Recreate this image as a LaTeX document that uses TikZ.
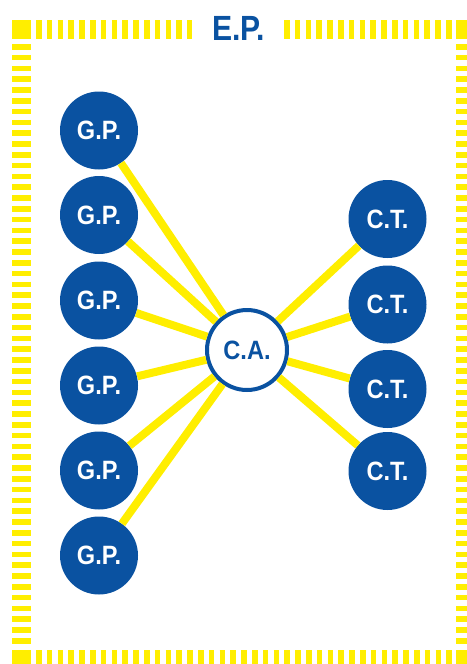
\documentclass[tikz,border=0pt]{standalone}
\usepackage{fontspec}
\setmainfont{Liberation Sans}
\begin{document}
\begin{tikzpicture}[x=1pt,y=-1pt,
  band/.style={draw=epyellow,line width=19pt,line cap=butt,dash pattern=on 5.6pt off 5.2pt},
  link/.style={draw=epyellow,line width=8pt},
  filled/.style={circle,fill=epblue,minimum size=78pt,inner sep=0pt,text=white,font=\bfseries\fontsize{26.5}{26.5}\selectfont},
  hub/.style={circle,draw=epblue,line width=4pt,fill=white,minimum size=80pt,inner sep=0pt,text=epblue,font=\bfseries\fontsize{26.5}{26.5}\selectfont}]
\definecolor{epblue}{HTML}{0A52A1}
\definecolor{epyellow}{HTML}{FFEE00}
\useasboundingbox (0,0) rectangle (466,664);
% frame
\fill[epyellow] (12,20) rectangle (31,39);
\fill[epyellow] (456,20) rectangle (475,39);
\fill[epyellow] (12,650) rectangle (31,669);
\fill[epyellow] (456,650) rectangle (475,669);
\draw[band] (36,29.5) -- (192,29.5);
\draw[band] (284,29.5) -- (452,29.5);
\draw[band] (36,659.5) -- (452,659.5);
\draw[band] (21.5,44) -- (21.5,646);
\draw[band] (465.5,44) -- (465.5,646);
\node[text=epblue,font=\bfseries\fontsize{35}{35}\selectfont,anchor=base] (ep) at (238.5,40) {\scalebox{0.86}[1]{E.P.}};
% nodes
\node[hub] (ca) at (247,350) {\scalebox{0.89}[1]{C.A.}};
\foreach \i/\y in {1/130.5,2/215,3/300.5,4/385.5,5/470.5,6/555.5}{
  \node[filled] (gp\i) at (99,\y) {\scalebox{0.89}[1]{G.P.}};
}
\foreach \i/\y in {1/219,2/304.5,3/389,4/471}{
  \node[filled] (ct\i) at (387.5,\y) {\scalebox{0.89}[1]{C.T.}};
}
\foreach \i in {1,...,6}{\draw[link] (gp\i) -- (ca);}
\foreach \i in {1,...,4}{\draw[link] (ct\i) -- (ca);}
\end{tikzpicture}
\end{document}
